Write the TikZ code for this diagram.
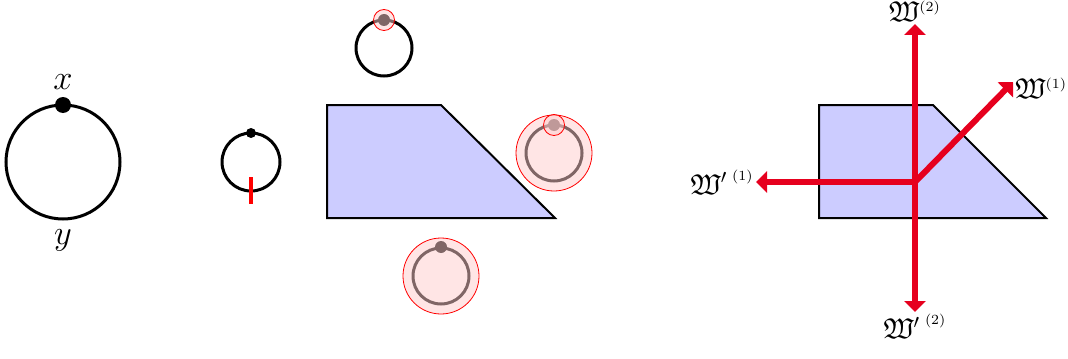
\documentclass[tikz,border=0pt]{standalone}
\usepackage{amssymb}
\usetikzlibrary{arrows.meta}
\definecolor{arrred}{RGB}{230,0,30}
\newcommand{\Wsup}[1]{^{\mbox{\fontsize{7}{8}\selectfont(#1)}}}
\begin{document}
\begin{tikzpicture}[x=0.5pt,y=-0.5pt,
  loop/.style={draw=black,line width=1.5pt},
  halo/.style={draw=red,line width=0.4pt,fill=red!20,fill opacity=0.5},
  wedge/.style={draw=black,line width=1pt,fill=blue!20},
  ray/.style={draw=arrred,line width=3pt,-{Triangle[width=10.5pt,length=5.5pt]}},
  ptlab/.style={font=\LARGE,inner sep=1pt},
  wlab/.style={font=\Large,inner sep=1pt}]
\useasboundingbox (0,0) rectangle (1068,358);
% big loop with x, y
\draw[loop] (63,162) circle[radius=57];
\fill (63,105) circle[radius=8];
\node[ptlab] (lx) at (63,82) {$x$};
\node[ptlab] (ly) at (63,240) {$y$};
% small loop with red cut
\draw[loop] (251,162) circle[radius=29];
\fill (251,133) circle[radius=5];
\draw[red,line width=2pt] (251,177) -- (251,204);
% top small loop
\draw[loop] (384,48) circle[radius=28];
\fill (384,20) circle[radius=6];
\draw[halo] (384,20) circle[radius=10.5];
% trapezoid left
\draw[wedge] (327,105) -- (441,105) -- (555,218) -- (327,218) -- cycle;
% right loop
\draw[loop] (554,153) circle[radius=28];
\fill (554,125) circle[radius=6];
\draw[halo] (554,153) circle[radius=38];
\draw[halo] (554,125) circle[radius=10.5];
% bottom loop
\draw[loop] (441,276) circle[radius=28];
\fill (441,247) circle[radius=6];
\draw[halo] (441,276) circle[radius=38];
% right diagram
\draw[wedge] (819,105) -- (933,105) -- (1046,218) -- (819,218) -- cycle;
\coordinate (o) at (915,182);
\coordinate (tu) at (915,24);
\coordinate (td) at (915,312);
\coordinate (tl) at (756,182);
\coordinate (tr) at (1013,82);
\draw[ray] (o) -- (tu);
\draw[ray] (o) -- (td);
\draw[ray] (o) -- (tl);
\draw[ray] (o) -- (tr);
\node[wlab,anchor=south] (w2) at (tu) {$\mathfrak{W}\Wsup{2}$};
\node[wlab,anchor=north] (w2p) at (td) {${\mathfrak{W}'\,}\Wsup{2}$};
\node[wlab,anchor=east] (w1p) at (tl) {${\mathfrak{W}'\,}\Wsup{1}$};
\node[wlab,anchor=west] (w1) at ([yshift=-3pt]tr) {$\mathfrak{W}\Wsup{1}$};
\end{tikzpicture}
\end{document}
